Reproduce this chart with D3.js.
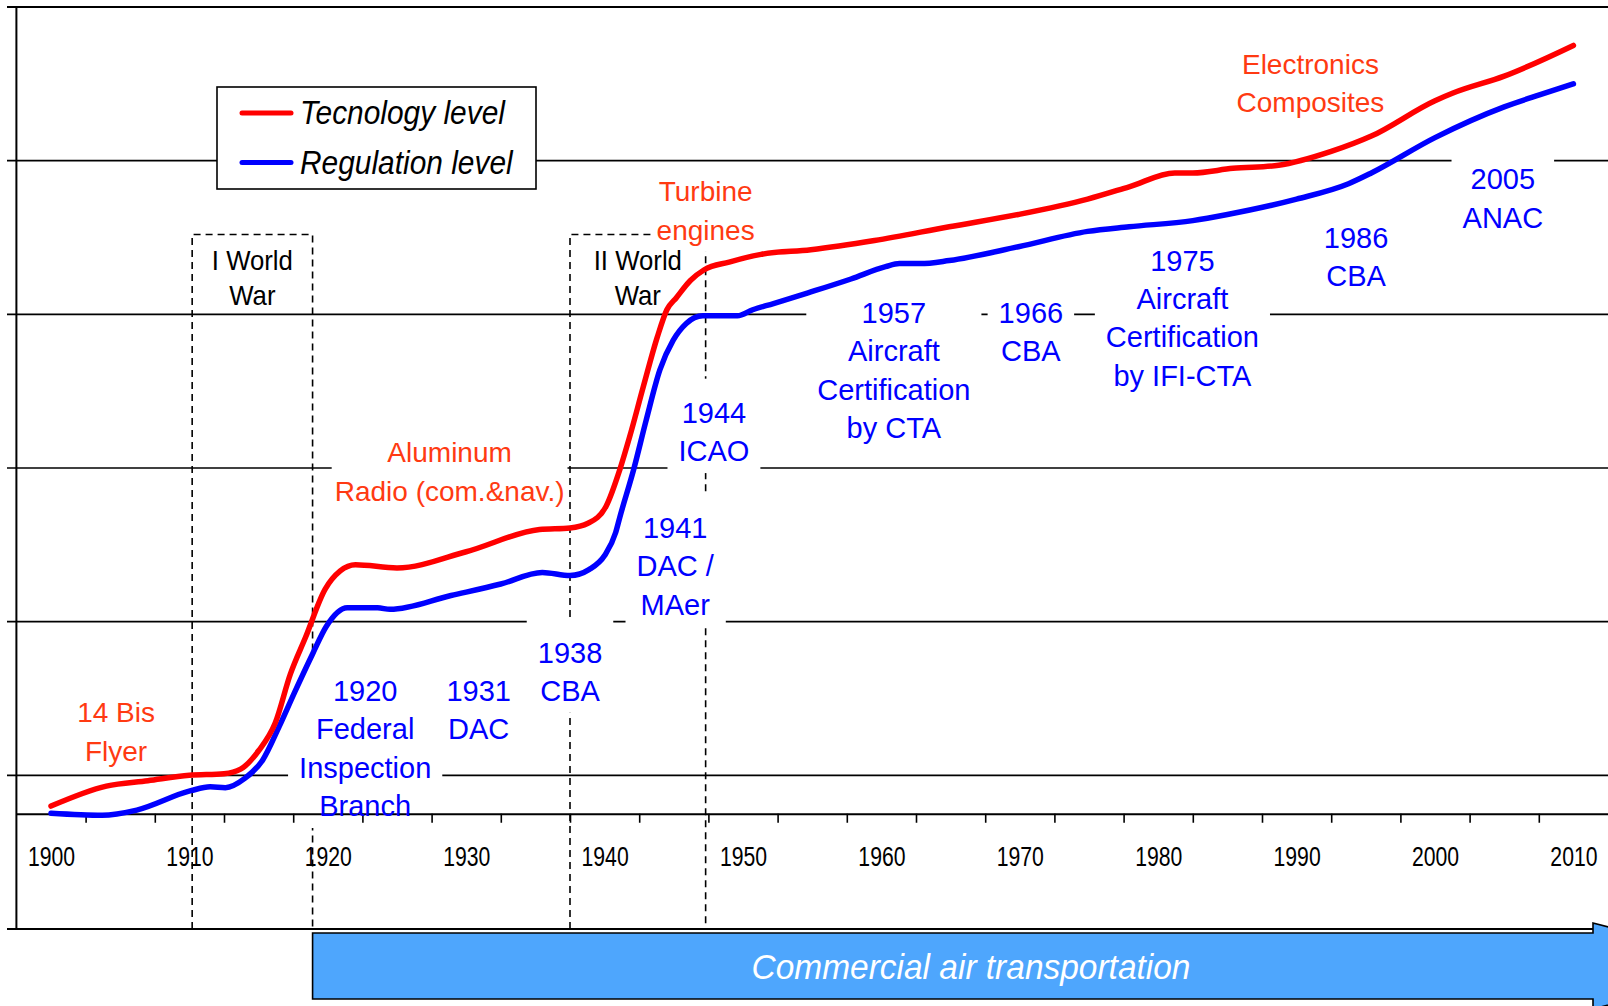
<!DOCTYPE html>
<html>
<head>
<meta charset="utf-8">
<script src="https://cdn.jsdelivr.net/npm/d3@7"></script>
<style>
  body { margin: 0; background: #fff; }
  svg { display: block; }
  text { font-family: "Liberation Sans", Arial, sans-serif; }
</style>
</head>
<body>
<div id="chart"></div>
<script>
// technology curve (red)
var techYears = [1900, 1904, 1907, 1910, 1912.5, 1913.7, 1915, 1916.2, 1917.3, 1918.4, 1919.8, 1920.9, 1922,
  1925, 1930, 1935.3, 1937.5, 1938.8, 1940.1, 1941.1, 1941.8, 1942.8, 1943.8, 1944.5, 1945.2, 1946.2,
  1947.2, 1949, 1951.3, 1954.9, 1959.5, 1964.9, 1969.9, 1974.9, 1977.9, 1981.2, 1982.5, 1985.4, 1988.7,
  1992.5, 1995.4, 2000, 2001.3, 2005, 2010];
var techLevel = [0.80, 0.93, 0.965, 1.00, 1.01, 1.04, 1.16, 1.34, 1.66, 1.90, 2.21, 2.33, 2.37,
  2.35, 2.455, 2.60, 2.61, 2.64, 2.75, 2.99, 3.20, 3.53, 3.85, 4.03, 4.11, 4.22,
  4.29, 4.34, 4.39, 4.42, 4.48, 4.57, 4.65, 4.75, 4.83, 4.92, 4.92, 4.95, 4.97,
  5.06, 5.16, 5.39, 5.44, 5.55, 5.75];

// regulation curve (blue)
var regYears = [1900, 1903.7, 1906.2, 1910.1, 1911.5, 1912.6, 1914, 1915.3, 1916.5, 1917.6, 1918.9, 1919.9,
  1921.4, 1923.6, 1924.5, 1928.9, 1932.5, 1935.5, 1937.5, 1938.9, 1940, 1940.8, 1941.1, 1942.1, 1943,
  1944, 1944.95, 1945.9, 1947.1, 1949.6, 1950.7, 1952.2, 1954.7, 1957.8, 1960.3, 1961.3, 1962.8, 1964.9,
  1969.9, 1974.9, 1977.9, 1982.5, 1985, 1990, 1993.75, 1995.4, 2000, 2005, 2007.6, 2010];
var regLevel = [0.753, 0.74, 0.774, 0.90, 0.925, 0.92, 0.98, 1.10, 1.32, 1.54, 1.79, 1.97,
  2.09, 2.09, 2.08, 2.17, 2.245, 2.32, 2.30, 2.34, 2.43, 2.58, 2.68, 2.99, 3.31,
  3.64, 3.83, 3.94, 3.99, 3.99, 4.03, 4.07, 4.14, 4.23, 4.31, 4.33, 4.33, 4.35,
  4.44, 4.54, 4.57, 4.61, 4.65, 4.75, 4.85, 4.92, 5.15, 5.35, 5.43, 5.50];

var decadeLabels = [1900, 1910, 1920, 1930, 1940, 1950, 1960, 1970, 1980, 1990, 2000, 2010];
var levelGrid = [0, 1, 2, 3, 4, 5, 6];

var wars = [
  { lines: ["I World", "War"], from: 1910.2, to: 1918.9, top: 4.52 },
  { lines: ["II World", "War"], from: 1937.5, to: 1947.3, top: 4.52 }
];

var techNotes = [
  { lines: ["14 Bis", "Flyer"], year: 1904.7, level: 1.41 },
  { lines: ["Aluminum", "Radio (com.&nav.)"], year: 1928.8, level: 3.10 },
  { lines: ["Turbine", "engines"], year: 1947.3, level: 4.80 },
  { lines: ["Electronics", "Composites"], year: 1991.0, level: 5.63 }
];

var regNotes = [
  { lines: ["1920", "Federal", "Inspection", "Branch"], year: 1922.7, level: 1.55 },
  { lines: ["1931", "DAC"], year: 1930.9, level: 1.55 },
  { lines: ["1938", "CBA"], year: 1937.5, level: 1.80 },
  { lines: ["1941", "DAC /", "MAer"], year: 1945.1, level: 2.61 },
  { lines: ["1944", "ICAO"], year: 1947.9, level: 3.36 },
  { lines: ["1957", "Aircraft", "Certification", "by CTA"], year: 1960.9, level: 4.01 },
  { lines: ["1966", "CBA"], year: 1970.8, level: 4.01 },
  { lines: ["1975", "Aircraft", "Certification", "by IFI-CTA"], year: 1981.75, level: 4.35 },
  { lines: ["1986", "CBA"], year: 1994.3, level: 4.50 },
  { lines: ["2005", "ANAC"], year: 2004.9, level: 4.88 }
];

var series = [
  { name: "Tecnology level", color: "#ff0000" },
  { name: "Regulation level", color: "#0000ff" }
];
var commercialStart = 1918.9;

var width = 1608, height = 1006;

var svg = d3.select("#chart")
  .append("svg")
  .attr("width", width)
  .attr("height", height);

var x = d3.scaleLinear().domain([1897.5, 2012.5]).range([16.4, 1608]);
var y = d3.scaleLinear().domain([0, 6]).range([929, 7]);

// horizontal grid + left ticks
svg.append("g")
  .selectAll("line")
  .data(levelGrid)
  .enter()
  .append("line")
  .attr("x1", 7)
  .attr("x2", width)
  .attr("y1", d => y(d))
  .attr("y2", d => y(d))
  .attr("stroke", "#000")
  .attr("stroke-width", d => (d === 0 || d === 6) ? 2 : 1.6);

svg.append("line")
  .attr("x1", x(1897.5)).attr("x2", x(1897.5))
  .attr("y1", y(6)).attr("y2", y(0))
  .attr("stroke", "#000")
  .attr("stroke-width", 2);

// war periods (dashed)
svg.append("g")
  .selectAll("path")
  .data(wars)
  .enter()
  .append("path")
  .attr("d", d => "M" + x(d.from) + "," + y(0) + "V" + y(d.top) + "H" + x(d.to) + "V" + y(0))
  .attr("fill", "none")
  .attr("stroke", "#000")
  .attr("stroke-width", 1.6)
  .attr("stroke-dasharray", "7,5");

var boxLayer = svg.append("g");
var axisLayer = svg.append("g");
var lineLayer = svg.append("g");
var textLayer = svg.append("g");

// text notes; white box behind hides grid/dashed lines like the original text boxes
function addNotes(notes, opt) {
  notes.forEach(function(n) {
    var g = textLayer.append("g")
      .attr("transform", "translate(" + x(n.year) + "," + y(n.level) + ")");
    n.lines.forEach(function(t, i) {
      g.append("text")
        .attr("y", i * opt.gap)
        .attr("dy", "0.35em")
        .attr("text-anchor", "middle")
        .attr("transform", "scale(" + opt.sx + ",1)")
        .style("font-size", opt.size + "px")
        .style("fill", opt.color)
        .text(t);
    });
    if (opt.box) {
      var bb = g.node().getBBox();
      var top = -opt.box[0], bottom = (n.lines.length - 1) * opt.gap + 22;
      boxLayer.append("rect")
        .attr("x", x(n.year) + bb.x - opt.box[1])
        .attr("y", y(n.level) + top)
        .attr("width", bb.width + 2 * opt.box[1])
        .attr("height", bottom - top)
        .attr("fill", "#fff");
    }
  });
}

addNotes(techNotes, { color: "#ff3a12", size: 28, sx: 1.0, gap: 38.4, box: [26, 3] });
addNotes(regNotes, { color: "#0000ff", size: 29, sx: 1.0, gap: 38.4, box: [34, 11] });
addNotes(wars.map(d => ({ lines: d.lines, year: (d.from + d.to) / 2, level: 4.35 })),
  { color: "#000", size: 28, sx: 0.92, gap: 35, box: null });

// x axis at level 0.75
var tickYears = d3.range(1902.5, 2010, 5);
var axisY = y(0.75);
axisLayer.append("g")
  .attr("transform", "translate(0," + axisY + ")")
  .call(d3.axisBottom(x).tickValues(tickYears).tickSize(9).tickSizeOuter(0).tickFormat(""))
  .call(g => g.select(".domain").attr("stroke-width", 2))
  .call(g => g.selectAll(".tick line").attr("stroke-width", 1.6));

axisLayer.append("g")
  .attr("transform", "translate(0," + axisY + ")")
  .call(d3.axisBottom(x).tickValues(decadeLabels).tickSize(0).tickPadding(33).tickFormat(d3.format("d")))
  .call(g => g.select(".domain").remove())
  .selectAll("text")
  .attr("transform", "scale(0.77,1)")
  .style("font-size", "27.5px")
  .style("font-family", "Liberation Sans, Arial, sans-serif")
  .style("fill", "#000");

// curves
var line = d3.line()
  .x(d => x(d[0]))
  .y(d => y(d[1]))
  .curve(d3.curveMonotoneX);

lineLayer.append("path")
  .datum(d3.zip(regYears, regLevel))
  .attr("d", line)
  .attr("fill", "none")
  .attr("stroke", series[1].color)
  .attr("stroke-width", 5.5)
  .attr("stroke-linecap", "round");

lineLayer.append("path")
  .datum(d3.zip(techYears, techLevel))
  .attr("d", line)
  .attr("fill", "none")
  .attr("stroke", series[0].color)
  .attr("stroke-width", 5.5)
  .attr("stroke-linecap", "round");

// legend
var legend = svg.append("g").attr("transform", "translate(217,87)");
legend.append("rect")
  .attr("width", 319)
  .attr("height", 102)
  .attr("fill", "#fff")
  .attr("stroke", "#000")
  .attr("stroke-width", 1.6);
var item = legend.selectAll(".item")
  .data(series)
  .enter()
  .append("g")
  .attr("class", "item")
  .attr("transform", (d, i) => "translate(0," + (26 + i * 49.5) + ")");
item.append("line")
  .attr("x1", 25).attr("x2", 74)
  .attr("stroke", d => d.color)
  .attr("stroke-width", 5)
  .attr("stroke-linecap", "round");
item.append("text")
  .attr("transform", "translate(83,0) scale(0.92,1)")
  .attr("dy", "0.35em")
  .style("font-size", "32.5px")
  .style("font-style", "italic")
  .style("fill", "#000")
  .text(d => d.name);

// commercial air transportation arrow
var ax0 = x(commercialStart), ax1 = 1593;
svg.append("path")
  .attr("d", "M" + ax0 + ",933H" + ax1 + "V923L" + (ax1 + 165) + ",966L" + ax1 + ",1009V999H" + ax0 + "Z")
  .attr("fill", "#4ea6fd")
  .attr("stroke", "#000")
  .attr("stroke-width", 1.6);
svg.append("text")
  .attr("transform", "translate(971,966) scale(0.93,1)")
  .attr("dy", "0.35em")
  .attr("text-anchor", "middle")
  .style("font-size", "36px")
  .style("font-style", "italic")
  .style("fill", "#fff")
  .text("Commercial air transportation");
</script>
</body>
</html>
